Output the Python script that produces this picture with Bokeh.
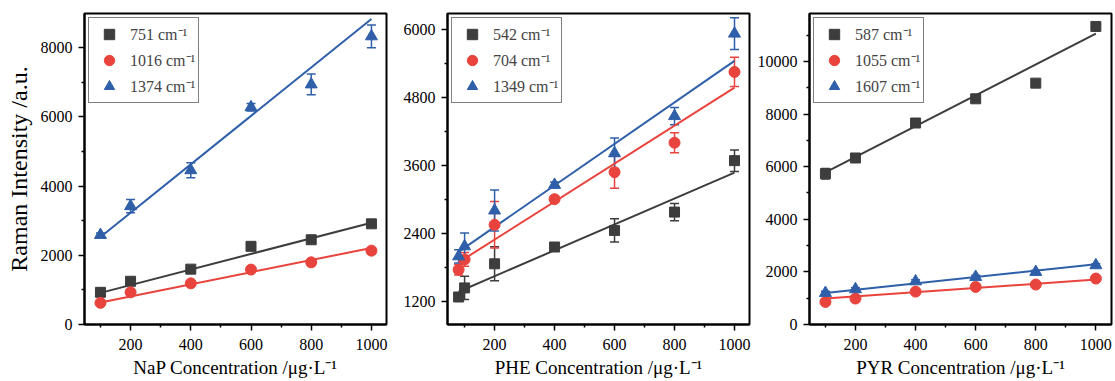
from bokeh.plotting import figure
from bokeh.models import (ColumnDataSource, Whisker, TeeHead, Range1d, FixedTicker,
                          Legend, LegendItem)
from bokeh.layouts import row
from bokeh.embed import file_html
from bokeh.resources import INLINE

# ---------------- data ----------------
x_ticks = [200, 400, 600, 800, 1000]
x_minor = [100, 300, 500, 700, 900]

nap_x = [100, 200, 400, 600, 800, 1000]
nap_751 = [930, 1250, 1600, 2260, 2450, 2910]
nap_751_err = [80, 70, 60, 90, 70, 60]
nap_1016 = [626, 930, 1190, 1587, 1798, 2135]
nap_1016_err = [70, 60, 70, 60, 90, 80]
nap_1374 = [2588, 3420, 4460, 6280, 6940, 8330]
nap_1374_err = [60, 190, 215, 110, 300, 330]
nap_fit_slope = [2.25, 1.75, 7.0]
nap_fit_intercept = [690, 463, 1830]
nap_labels = ["751 cm\u207b\u00b9", "1016 cm\u207b\u00b9", "1374 cm\u207b\u00b9"]
nap_yticks = [0, 2000, 4000, 6000, 8000]
nap_yminor = [1000, 3000, 5000, 7000]

phe_x = [80, 100, 200, 400, 600, 800, 1000]
phe_542 = [1275, 1436, 1862, 2159, 2452, 2776, 3686]
phe_542_err = [60, 206, 300, 60, 206, 153, 190]
phe_704 = [1759, 1940, 2552, 3005, 3481, 4003, 5254]
phe_704_err = [97, 120, 411, 50, 282, 176, 259]
phe_1349 = [1993, 2170, 2804, 3257, 3816, 4473, 5931]
phe_1349_err = [118, 235, 364, 50, 270, 153, 282]
phe_fit_slope = [2.29, 3.36, 3.67]
phe_fit_intercept = [1185, 1618, 1780]
phe_labels = ["542 cm\u207b\u00b9", "704 cm\u207b\u00b9", "1349 cm\u207b\u00b9"]
phe_yticks = [1200, 2400, 3600, 4800, 6000]
phe_yminor = [1800, 3000, 4200, 5400]

pyr_x = [100, 200, 400, 600, 800, 1000]
pyr_587 = [5735, 6330, 7660, 8580, 9176, 11330]
pyr_587_err = [200, 100, 100, 120, 80, 100]
pyr_1055 = [858, 987, 1250, 1428, 1519, 1747]
pyr_1055_err = [70, 60, 60, 60, 60, 60]
pyr_1607 = [1200, 1340, 1640, 1808, 1998, 2252]
pyr_1607_err = [60, 60, 60, 60, 60, 60]
pyr_fit_slope = [5.86, 0.80, 1.21]
pyr_fit_intercept = [5200, 907, 1079]
pyr_labels = ["587 cm\u207b\u00b9", "1055 cm\u207b\u00b9", "1607 cm\u207b\u00b9"]
pyr_yticks = [0, 2000, 4000, 6000, 8000, 10000]
pyr_yminor = [1000, 3000, 5000, 7000, 9000, 11000]

# ---------------- style ----------------
FONT = "Liberation Serif"
GRAY, RED, BLUE = "#3d3d3d", "#e8433c", "#2f5fa9"
COLORS = [GRAY, RED, BLUE]
MARKERS = ["square", "circle", "triangle"]
SIZES = [10, 11, 12]


def style_axis(ax):
    ax.axis_line_width = 2
    ax.axis_line_color = "black"
    ax.major_tick_line_width = 1.5
    ax.minor_tick_line_width = 1.5
    ax.major_tick_out = 6
    ax.major_tick_in = 0
    ax.minor_tick_out = 3
    ax.minor_tick_in = 0
    ax.major_label_text_font = FONT
    ax.major_label_text_font_size = "16px"
    ax.major_label_text_color = "black"
    ax.axis_label_text_font = FONT
    ax.axis_label_text_font_style = "normal"
    ax.axis_label_text_color = "black"


def make_panel(x, ys, errs, slopes, intercepts, labels, xr, yr, yticks, yminor,
               xlabel, ylabel, left, right):
    p = figure(frame_width=302, frame_height=311, output_backend="svg",
               toolbar_location=None, x_range=Range1d(*xr), y_range=Range1d(*yr),
               min_border_left=left, min_border_right=right, min_border_top=13,
               min_border_bottom=52)
    p.xgrid.visible = False
    p.ygrid.visible = False
    p.outline_line_color = "black"
    p.outline_line_width = 2
    p.background_fill_color = "white"
    p.border_fill_color = "white"

    items = []
    for k in range(3):
        fx = [x[0], x[-1]]
        fy = [intercepts[k] + slopes[k] * v for v in fx]
        p.line(fx, fy, line_color=COLORS[k], line_width=2)
    for k in range(3):
        src = ColumnDataSource(dict(
            x=x, y=ys[k],
            upper=[a + b for a, b in zip(ys[k], errs[k])],
            lower=[a - b for a, b in zip(ys[k], errs[k])]))
        w = Whisker(source=src, base="x", upper="upper", lower="lower",
                    line_color=COLORS[k], line_width=1.5, level="underlay",
                    upper_head=TeeHead(size=9, line_color=COLORS[k], line_width=1.5),
                    lower_head=TeeHead(size=9, line_color=COLORS[k], line_width=1.5))
        p.add_layout(w)
        r = p.scatter("x", "y", source=src, marker=MARKERS[k], size=SIZES[k],
                      fill_color=COLORS[k], line_color=COLORS[k])
        items.append(LegendItem(label=labels[k], renderers=[r]))

    leg = Legend(items=items, location="top_left", margin=4, padding=3, spacing=-4,
                 glyph_width=34, glyph_height=26, label_height=26, label_standoff=4,
                 label_text_font=FONT, label_text_font_size="16px",
                 border_line_color="black", border_line_width=1,
                 background_fill_color="white", background_fill_alpha=1)
    p.add_layout(leg)

    p.xaxis.ticker = FixedTicker(ticks=x_ticks, minor_ticks=x_minor)
    p.yaxis.ticker = FixedTicker(ticks=yticks, minor_ticks=yminor)
    for ax in (p.xaxis[0], p.yaxis[0]):
        style_axis(ax)
    p.xaxis.major_label_standoff = 8
    p.yaxis.major_label_standoff = 6
    p.xaxis.axis_label = xlabel
    p.xaxis.axis_label_text_font_size = "19px"
    p.xaxis.axis_label_standoff = 4
    if ylabel:
        p.yaxis.axis_label = ylabel
        p.yaxis.axis_label_text_font_size = "24px"
        p.yaxis.axis_label_standoff = 6
    return p


p1 = make_panel(nap_x, [nap_751, nap_1016, nap_1374],
                [nap_751_err, nap_1016_err, nap_1374_err],
                nap_fit_slope, nap_fit_intercept, nap_labels,
                (47, 1050), (0, 8990), nap_yticks, nap_yminor,
                "NaP Concentration /\u03bcg\u00b7L\u207b\u00b9", "Raman Intensity /a.u.", 84, 6)
p2 = make_panel(phe_x, [phe_542, phe_704, phe_1349],
                [phe_542_err, phe_704_err, phe_1349_err],
                phe_fit_slope, phe_fit_intercept, phe_labels,
                (43, 1050), (789, 6287), phe_yticks, phe_yminor,
                "PHE Concentration /\u03bcg\u00b7L\u207b\u00b9", None, 55, 5)
p3 = make_panel(pyr_x, [pyr_587, pyr_1055, pyr_1607],
                [pyr_587_err, pyr_1055_err, pyr_1607_err],
                pyr_fit_slope, pyr_fit_intercept, pyr_labels,
                (47, 1052), (0, 11823), pyr_yticks, pyr_yminor,
                "PYR Concentration /\u03bcg\u00b7L\u207b\u00b9", None, 54, 2)

layout = row(p1, p2, p3)
open("out.html", "w").write(file_html(layout, INLINE))
